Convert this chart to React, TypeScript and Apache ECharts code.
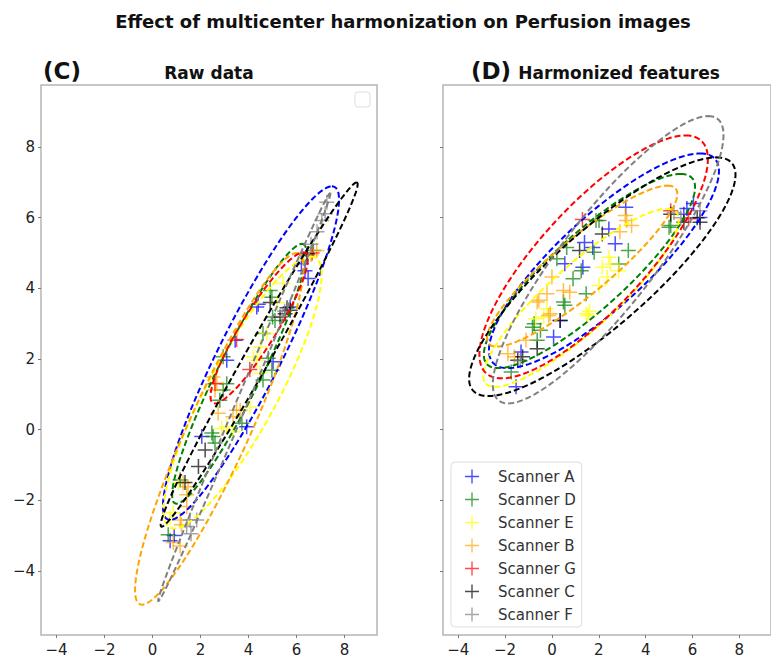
import React, { useEffect, useRef } from "react";
import * as echarts from "echarts";

const scanners = ["Scanner A", "Scanner D", "Scanner E", "Scanner B", "Scanner G", "Scanner C", "Scanner F"];
const colors = ["#0000ff", "#008000", "#ffff00", "#ffa500", "#ff0000", "#000000", "#808080"];
const xTicks = [-4, -2, 0, 2, 4, 6, 8];
const yTicks = [-4, -2, 0, 2, 4, 6, 8];
const xRange = [-4.65, 9.35];
const yRange = [-5.82, 9.76];

// Raw data points (panel C)
const rawA = [[6.42, 4.93], [6.35, 4.5], [6.48, 4.28], [6.2, 4.7], [4.34, 3.47], [5.73, 3.47], [3.44, 2.53], [3.09, 1.96], [5.02, 1.92], [3.92, 0.08], [2.05, -0.2], [0.73, -3.15], [0.9, -3.0], [4.4, 3.55]];
const rawD = [[6.7, 5.07], [4.97, 3.75], [5.0, 3.19], [4.6, 2.72], [4.97, 1.68], [2.94, 1.12], [2.8, 0.83], [2.47, -0.1], [5.1, 3.09], [3.09, 1.3], [2.94, 2.06], [4.82, 2.02], [4.9, 3.94], [4.6, 1.4], [3.72, 0.18], [2.52, -0.2], [2.6, -0.38], [0.65, -2.98], [1.15, -1.43]];
const rawE = [[5.44, 4.14], [4.76, 2.72], [4.2, 2.06], [4.48, 1.6], [3.09, 0.08], [4.48, 2.34], [4.34, 1.96], [4.06, 0.64], [2.88, 0.03], [3.35, -0.06], [0.86, -2.36], [0.73, -2.5], [1.07, -1.51], [5.2, 3.6]];
const rawB = [[6.84, 5.07], [6.6, 4.95], [2.67, 1.31], [2.6, 1.12], [3.5, 0.55], [2.52, 1.49], [2.73, 0.46], [3.35, 0.36], [3.65, 0.55], [1.27, -1.51], [1.48, -1.62], [1.42, -1.85], [1.15, -2.56], [1.2, -2.7], [0.86, -3.2], [1.15, -3.3], [1.42, -2.18]];
const rawG = [[3.5, 2.55], [4.05, 1.7], [6.65, 5.0], [2.6, 1.3]];
const rawC = [[5.52, 3.28], [5.73, 3.38], [5.31, 3.19], [5.6, 3.45], [6.45, 4.98], [2.19, -0.58], [1.91, -1.05], [1.35, -1.5], [4.9, 3.6]];
const rawF = [[7.26, 6.44], [7.19, 6.11], [7.05, 5.92], [6.85, 5.6], [6.6, 5.25], [5.5, 3.35], [5.4, 3.2], [1.42, -2.75], [1.56, -2.56], [1.84, -2.56], [1.6, -2.95]];

// Harmonized points (panel D)
const harmA = [[3.15, 6.3], [6.04, 6.4], [2.43, 5.68], [1.39, 5.3], [1.74, 5.16], [0.55, 4.7], [1.32, 4.6], [2.7, 5.26], [5.76, 6.26], [6.32, 6.01], [5.63, 6.1], [0.35, 3.09], [0.07, 2.62], [-1.32, 2.2], [-1.53, 1.21]];
const harmD = [[1.88, 5.92], [0.63, 5.16], [0.21, 4.84], [1.8, 5.02], [3.26, 5.07], [2.85, 4.69], [1.25, 4.5], [0.9, 4.27], [5.07, 5.78], [0.49, 3.61], [1.46, 3.85], [-0.76, 3.0], [0.55, 3.52], [-0.83, 2.9], [-0.49, 2.81], [-0.63, 2.53], [-1.74, 1.63], [2.01, 5.92], [5.0, 5.73]];
const harmE = [[2.43, 4.88], [2.15, 4.6], [2.36, 4.32], [1.46, 3.28], [-0.35, 3.19], [1.53, 3.23], [-0.69, 3.14], [2.5, 4.69], [2.01, 4.08], [-0.21, 3.42], [2.85, 4.5], [1.6, 3.35]];
const harmB = [[3.19, 5.92], [3.4, 5.78], [0.0, 4.32], [0.49, 3.94], [-0.21, 3.85], [-0.56, 3.66], [-0.07, 3.28], [0.76, 3.89], [-0.63, 3.61], [-0.14, 3.23], [-1.11, 2.53], [-1.88, 2.15], [-1.6, 2.06], [3.13, 6.06], [2.9, 5.6]];
const harmG = [[5.07, 6.2], [5.83, 5.97], [1.3, 5.95]];
const harmC = [[2.15, 5.54], [1.18, 5.07], [0.35, 3.09], [5.07, 6.1], [5.63, 5.87], [6.32, 5.87], [-1.46, 1.96], [-1.25, 2.06], [-0.63, 2.29], [6.2, 6.0]];
const harmF = [[5.21, 6.15], [6.32, 6.2], [5.5, 6.0], [-1.35, 1.95]];

// Ellipses: [centerX, centerY, topDx, topDy, halfWidthAtCenter] (data units)
const rawEllipses = [
  [4.1, 2.165, 3.37, 4.725, 1.45],
  [3.61, 1.58, 2.61, 3.68, 1.0],
  [3.75, 1.05, 2.85, 3.85, 1.65],
  [2.78, 0.02, 3.22, 4.98, 1.4],
  [4.44, 2.88, 1.84, 2.14, 0.85],
  [4.44, 2.125, 4.06, 4.875, 0.6],
  [3.82, 0.92, 3.58, 5.78, 0.25],
];
const harmEllipses = [
  [2.22, 4.78, 4.1, 3.04, 2.7],
  [1.6, 4.49, 3.89, 2.75, 2.28],
  [1.24, 3.73, 3.66, 2.52, 2.0],
  [1.29, 4.63, 3.64, 2.28, 1.8],
  [1.78, 4.89, 3.92, 3.44, 2.9],
  [2.15, 4.33, 4.86, 3.38, 2.95],
  [2.4, 4.81, 4.27, 4.07, 2.45],
];

const rawSets = [rawA, rawD, rawE, rawB, rawG, rawC, rawF];
const harmSets = [harmA, harmD, harmE, harmB, harmG, harmC, harmF];

const PLUS = "path://M4.5,0H5.5V4.5H10V5.5H5.5V10H4.5V5.5H0V4.5H4.5Z";
const FONT = "DejaVu Sans";

const fmt = (v: number) => String(v).replace("-", "\u2212");

function makeX(gridIndex: number) {
  return {
    type: "value",
    gridIndex,
    min: xRange[0],
    max: xRange[1],
    axisLine: { show: false, onZero: false },
    axisTick: { show: true, length: 3, customValues: xTicks, lineStyle: { color: "#777" } },
    axisLabel: { show: true, customValues: xTicks, color: "#222", fontSize: 15, fontFamily: FONT, margin: 7, formatter: fmt },
    splitLine: { show: false },
  };
}
function makeY(gridIndex: number, labels: boolean) {
  return {
    type: "value",
    gridIndex,
    min: yRange[0],
    max: yRange[1],
    axisLine: { show: false, onZero: false },
    axisTick: { show: true, length: 3, customValues: yTicks, lineStyle: { color: "#777" } },
    axisLabel: { show: labels, customValues: yTicks, color: "#222", fontSize: 15, fontFamily: FONT, margin: 6, formatter: fmt },
    splitLine: { show: false },
  };
}

function ellipseSeries(data: number[][], idx: number) {
  return {
    type: "custom",
    xAxisIndex: idx,
    yAxisIndex: idx,
    clip: true,
    z: 3,
    silent: true,
    data,
    encode: { x: 0, y: 1 },
    renderItem: (params: any, api: any) => {
      const cx = api.value(0), cy = api.value(1), tx = api.value(2), ty = api.value(3), h = api.value(4);
      const pts: number[][] = [];
      const n = 160;
      for (let i = 0; i <= n; i++) {
        const a = (i / n) * Math.PI * 2;
        pts.push(api.coord([cx + tx * Math.cos(a) + h * Math.sin(a), cy + ty * Math.cos(a)]));
      }
      return {
        type: "polyline",
        shape: { points: pts },
        style: { stroke: colors[params.dataIndex], lineWidth: 2, lineDash: [6, 3], fill: null },
      };
    },
  };
}

export default function App() {
  const ref = useRef<HTMLDivElement>(null);
  useEffect(() => {
    if (!ref.current) return;
    const chart = echarts.init(ref.current, null, { renderer: "svg" });
    const scatter: any[] = [];
    [rawSets, harmSets].forEach((sets, gi) => {
      sets.forEach((pts, si) => {
        scatter.push({
          type: "scatter",
          name: scanners[si],
          xAxisIndex: gi,
          yAxisIndex: gi,
          data: pts,
          symbol: PLUS,
          symbolSize: 15,
          z: 2,
          itemStyle: { color: colors[si], opacity: 0.7 },
        });
      });
    });
    const textStyle = (size: number, align: string) => ({
      fontSize: size, fontWeight: "bold", fontFamily: FONT, fill: "#111",
      align, textAlign: align, verticalAlign: "middle", textVerticalAlign: "middle",
    });
    const option: any = {
      animation: false,
      backgroundColor: "#fff",
      grid: [
        { left: 41, top: 85, width: 336, height: 550, show: true, borderColor: "#b5b5b5", borderWidth: 1.5, backgroundColor: "transparent" },
        { left: 443, top: 85, width: 336, height: 550, show: true, borderColor: "#b5b5b5", borderWidth: 1.5, backgroundColor: "transparent" },
      ],
      xAxis: [makeX(0), makeX(1)],
      yAxis: [makeY(0, true), makeY(1, false)],
      legend: {
        data: scanners.map((s) => ({ name: s, icon: PLUS })),
        orient: "vertical",
        left: 451,
        top: 462,
        padding: [7, 6, 5, 14],
        itemWidth: 14,
        itemHeight: 14,
        itemGap: 8,
        selectedMode: false,
        backgroundColor: "#fff",
        borderColor: "#ddd",
        borderWidth: 1,
        borderRadius: 4,
        textStyle: { fontSize: 15, color: "#333", fontFamily: FONT, padding: [0, 0, 0, 14] },
      },
      graphic: [
        { type: "text", x: 403, y: 21, style: { text: "Effect of multicenter harmonization on Perfusion images", ...textStyle(18, "center") } },
        { type: "text", x: 43, y: 71, style: { text: "(C)", ...textStyle(23, "left") } },
        { type: "text", x: 209, y: 73, style: { text: "Raw data", ...textStyle(17, "center") } },
        { type: "text", x: 471, y: 71, style: { text: "(D)", ...textStyle(23, "left") } },
        { type: "text", x: 619, y: 73, style: { text: "Harmonized features", ...textStyle(17, "center") } },
        { type: "rect", shape: { x: 355, y: 92, width: 15, height: 15, r: 3 }, style: { fill: "#fff", stroke: "#ddd", lineWidth: 1 } },
      ],
      series: [...scatter, ellipseSeries(rawEllipses, 0), ellipseSeries(harmEllipses, 1)],
    };
    chart.setOption(option);
    return () => chart.dispose();
  }, []);
  return <div ref={ref} style={{ position: "absolute", left: 0, top: 0, width: 771, height: 657, background: "#fff" }} />;
}
